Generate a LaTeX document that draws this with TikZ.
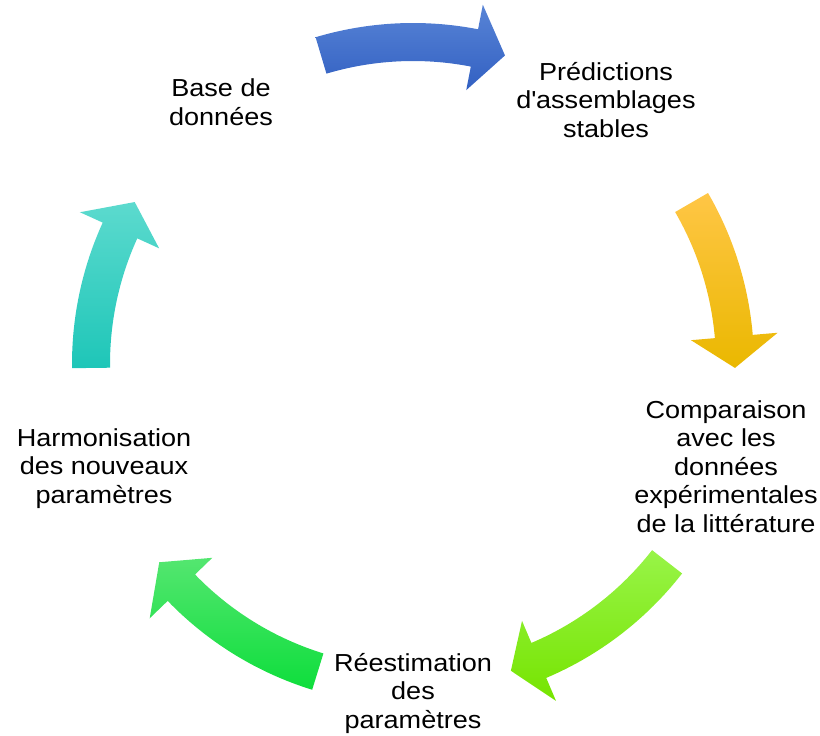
\documentclass[tikz,border=0pt]{standalone}
\usepackage{fontspec}
\setmainfont{Liberation Sans}[FakeStretch=1.1]
\usepackage{tikz}
\usetikzlibrary{positioning}
% one curved block arrow of the cycle: style, tail angle, head angle, tip angle
\newcommand{\cyclearrow}[4]{%
  \shade[#1]
    (#2:341) arc[start angle=#2, end angle=#3, radius=341]
    -- (#3:366) -- (#4:322) -- (#3:279) -- (#3:303)
    arc[start angle=#3, end angle=#2, radius=303] -- cycle;}

\begin{document}
\begin{tikzpicture}[
  x=0.02cm, y=0.02cm,
  steptext/.style={
    align=center,
    anchor=base,
    inner sep=0pt,
    font=\fontsize{14}{16.2}\selectfont
  },
  bluearrow/.style={top color={rgb,255:red,88;green,132;blue,214},
    middle color={rgb,255:red,68;green,112;blue,204},
    bottom color={rgb,255:red,50;green,96;blue,194}},
  yellowarrow/.style={top color={rgb,255:red,255;green,198;blue,70},
    middle color={rgb,255:red,255;green,200;blue,0},
    bottom color={rgb,255:red,234;green,184;blue,0}},
  limearrow/.style={top color={rgb,255:red,152;green,244;blue,72},
    middle color={rgb,255:red,134;green,240;blue,20},
    bottom color={rgb,255:red,118;green,228;blue,0}},
  greenarrow/.style={top color={rgb,255:red,84;green,230;blue,112},
    middle color={rgb,255:red,30;green,226;blue,72},
    bottom color={rgb,255:red,14;green,222;blue,60}},
  tealarrow/.style={top color={rgb,255:red,92;green,218;blue,206},
    middle color={rgb,255:red,48;green,218;blue,200},
    bottom color={rgb,255:red,30;green,198;blue,184}}
]
  \useasboundingbox (-413,-371) rectangle (407,364);

  \cyclearrow{bluearrow}{106.6}{79}{73.4}
  \cyclearrow{yellowarrow}{30.1}{4.9}{-0.7}
  \cyclearrow{limearrow}{-37.9}{-67}{-72.3}
  \cyclearrow{greenarrow}{-107.2}{-136}{-142}
  \cyclearrow{tealarrow}{180.7}{155.5}{149.8}

  % base anchor sits on the last line
  \node[steptext] (base) at (-192,239) {Base de\\ données};
  \node[steptext] (pred) at (193,227)
    {Prédictions\\ d\textquotesingle assemblages\\ stables};
  \node[steptext] (comp) at (313,-168)
    {Comparaison\\ avec les\\ données\\ expérimentales\\ de la littérature};
  \node[steptext] (reest) at (0,-364) {Réestimation\\ des\\ paramètres};
  \node[steptext] (harm) at (-309,-139) {Harmonisation\\ des nouveaux\\ paramètres};
\end{tikzpicture}
\end{document}
